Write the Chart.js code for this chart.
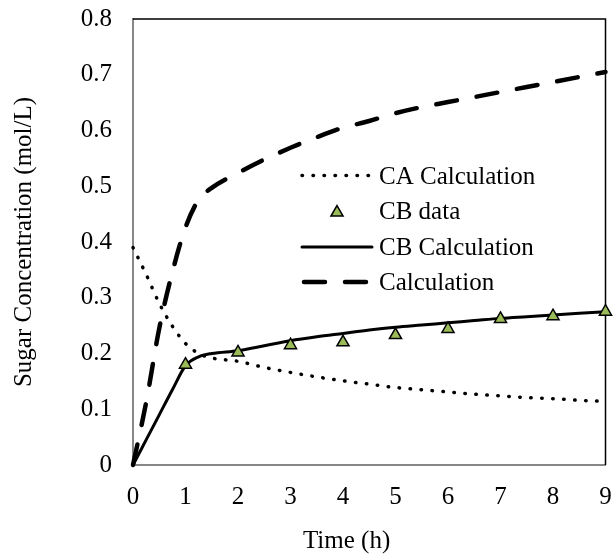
<!DOCTYPE html>
<html><head><meta charset="utf-8">
<script src="https://cdn.jsdelivr.net/npm/chart.js@4"></script>
<style>html,body{margin:0;padding:0;background:#fff;} canvas{display:block;}</style>
</head><body>
<canvas id="c" width="614" height="554"></canvas>
<script>
// ---- data ----
const timeCalc = [0, 0.25, 0.5, 0.75, 1, 1.25, 1.5, 2, 2.5, 3, 3.5, 4, 4.5, 5, 5.5, 6, 6.5, 7, 7.5, 8, 8.5, 9];
const caCalculation = [0.39, 0.342, 0.29, 0.249, 0.218, 0.200, 0.192, 0.186, 0.175, 0.166, 0.158, 0.151, 0.145, 0.139, 0.135, 0.131, 0.127, 0.124, 0.121, 0.119, 0.116, 0.114];
const cbCalculation = [0, 0.045, 0.09, 0.135, 0.178, 0.194, 0.200, 0.205, 0.214, 0.223, 0.230, 0.236, 0.242, 0.247, 0.251, 0.255, 0.259, 0.263, 0.266, 0.269, 0.272, 0.275];
const calculation = [0, 0.112, 0.245, 0.346, 0.426, 0.476, 0.497, 0.524, 0.548, 0.569, 0.588, 0.605, 0.617, 0.631, 0.642, 0.651, 0.660, 0.669, 0.678, 0.687, 0.696, 0.705];
const timeData = [1, 2, 3, 4, 5, 6, 7, 8, 9];
const cbData = [0.18, 0.202, 0.215, 0.22, 0.233, 0.244, 0.262, 0.267, 0.275];
const xTickLabels = ['0', '1', '2', '3', '4', '5', '6', '7', '8', '9'];
const yTickLabels = ['0', '0.1', '0.2', '0.3', '0.4', '0.5', '0.6', '0.7', '0.8'];
const seriesNames = ['CA Calculation', 'CB data', 'CB Calculation', 'Calculation'];
const xTitle = 'Time (h)';
const yTitle = 'Sugar Concentration (mol/L)';

const FONT = "'Liberation Serif', 'Times New Roman', serif";
const FS = 25;
const pts = (xs, ys) => xs.map((x, i) => ({x: x, y: ys[i]}));

function triangle(ctx, x, y, r) {
  ctx.beginPath();
  ctx.moveTo(x, y - r);
  ctx.lineTo(x + r * Math.sin(Math.PI * 2 / 3), y + r / 2);
  ctx.lineTo(x - r * Math.sin(Math.PI * 2 / 3), y + r / 2);
  ctx.closePath();
  ctx.fillStyle = '#9BBB59';
  ctx.fill();
  ctx.lineWidth = 1.5;
  ctx.strokeStyle = '#000';
  ctx.setLineDash([]);
  ctx.stroke();
}

const framePlugin = {
  id: 'frame',
  beforeDatasetsDraw(chart) {
    const {ctx, chartArea: a} = chart;
    ctx.save();
    ctx.strokeStyle = '#000';
    ctx.lineWidth = 1.5;
    ctx.beginPath();
    ctx.moveTo(a.left, a.top);
    ctx.lineTo(a.right, a.top);
    ctx.lineTo(a.right, a.bottom);
    ctx.stroke();
    ctx.restore();
  },
  afterDraw(chart) {
    const {ctx, chartArea: a} = chart;
    ctx.save();
    // x axis title
    ctx.font = FS + 'px ' + FONT;
    ctx.fillStyle = '#000';
    ctx.textAlign = 'center';
    ctx.textBaseline = 'alphabetic';
    ctx.fillText(xTitle, a.left + 0.452 * (a.right - a.left), 548);
    // legend
    const ds = chart.data.datasets;
    const x0 = 302, x1 = 372, tx = 379;
    const base = [183.5, 219, 255, 290];
    ctx.textAlign = 'left';
    seriesNames.forEach((name, i) => {
      const d = ds.find(s => s.label === name);
      const yy = base[i] - 8;
      if (d.showLine === false) {
        triangle(ctx, (x0 + x1) / 2, yy + 1.5, 7);
      } else {
        ctx.beginPath();
        ctx.setLineDash(d.borderDash || []);
        ctx.lineCap = d.borderCapStyle || 'butt';
        ctx.lineWidth = d.borderWidth;
        ctx.strokeStyle = d.borderColor;
        const s = d.label === 'Calculation' ? x0 + 2 : x0;
        const e = d.label === 'Calculation' ? x1 - 6 : x1;
        ctx.moveTo(s, yy);
        ctx.lineTo(e, yy);
        ctx.stroke();
      }
      ctx.setLineDash([]);
      ctx.fillStyle = '#000';
      ctx.fillText(name, tx, base[i]);
    });
    ctx.restore();
  }
};

new Chart(document.getElementById('c'), {
  type: 'line',
  data: {
    datasets: [
      {
        label: seriesNames[1], data: pts(timeData, cbData), showLine: false,
        pointStyle: 'triangle', pointRadius: 7, pointBackgroundColor: '#9BBB59',
        pointBorderColor: '#000', pointBorderWidth: 1.5, order: 0, clip: false
      },
      {
        label: seriesNames[0], data: pts(timeCalc, caCalculation),
        borderColor: '#000', borderWidth: 3.5, borderDash: [0.5, 10.5], borderCapStyle: 'round',
        pointRadius: 0, cubicInterpolationMode: 'monotone', order: 3, clip: false
      },
      {
        label: seriesNames[2], data: pts(timeCalc, cbCalculation),
        borderColor: '#000', borderWidth: 3, borderCapStyle: 'round', borderJoinStyle: 'round',
        pointRadius: 0, cubicInterpolationMode: 'monotone', order: 2, clip: false
      },
      {
        label: seriesNames[3], data: pts(timeCalc, calculation),
        borderColor: '#000', borderWidth: 4.5, borderDash: [21, 20], borderCapStyle: 'round',
        pointRadius: 0, cubicInterpolationMode: 'monotone', order: 1, clip: false
      }
    ]
  },
  options: {
    responsive: false,
    animation: false,
    devicePixelRatio: 1,
    layout: {padding: {top: 19, right: 4, left: 0, bottom: 0}},
    plugins: {legend: {display: false}, tooltip: {enabled: false}},
    scales: {
      x: {
        type: 'linear', min: 0, max: 9, position: 'bottom',
        ticks: {stepSize: 1, padding: 17, autoSkip: false, maxRotation: 0, color: '#000',
          font: {family: FONT, size: FS}, callback: v => xTickLabels[Math.round(v)]},
        grid: {display: false, drawTicks: false},
        border: {display: true, color: '#878787', width: 2},
        afterFit(s) { s.height = 89; s.paddingLeft = 0; s.paddingRight = 0; }
      },
      y: {
        type: 'linear', min: 0, max: 0.8, position: 'left',
        ticks: {stepSize: 0.1, padding: 21, color: '#000',
          font: {family: FONT, size: FS}, callback: v => yTickLabels[Math.round(v * 10)]},
        grid: {display: false, drawTicks: false},
        border: {display: true, color: '#878787', width: 2},
        title: {display: true, text: yTitle, color: '#000', font: {family: FONT, size: FS}, padding: {top: 9, bottom: 0}},
        afterFit(s) { s.width = 133; s.paddingTop = 0; s.paddingBottom = 0; }
      }
    }
  },
  plugins: [framePlugin]
});
</script>
</body></html>
